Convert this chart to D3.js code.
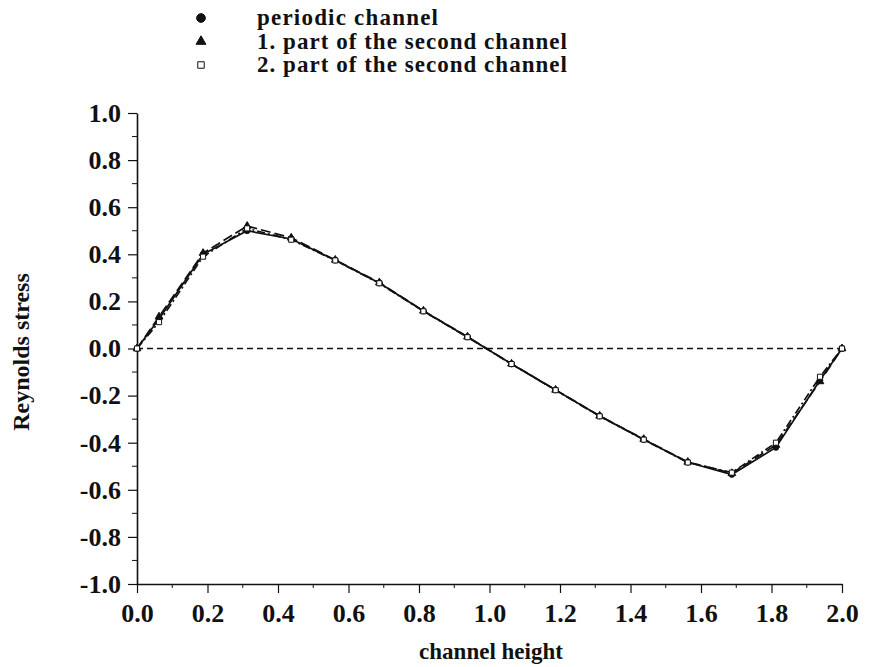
<!DOCTYPE html>
<html lang="en">
<head>
<meta charset="UTF-8">
<title>Reynolds stress</title>
<script src="https://d3js.org/d3.v7.min.js"></script>
<style>
  body { margin: 0; background: #fff; }
  text { font-family: "Liberation Serif", "Times New Roman", serif; fill: #111; }
</style>
</head>
<body>
<svg id="chart" width="869" height="667"></svg>
<script>
// data
const heights = [0, 0.0625, 0.1875, 0.3125, 0.4375, 0.5625, 0.6875, 0.8125, 0.9375,
                 1.0625, 1.1875, 1.3125, 1.4375, 1.5625, 1.6875, 1.8125, 1.9375, 2.0];
const periodic = [0, 0.125, 0.40, 0.50, 0.465, 0.375, 0.278, 0.159, 0.049,
                  -0.066, -0.176, -0.287, -0.386, -0.483, -0.535, -0.42, -0.135, 0];
const secondPart1 = [0, 0.135, 0.405, 0.52, 0.47, 0.376, 0.28, 0.16, 0.05,
                     -0.065, -0.176, -0.286, -0.385, -0.482, -0.53, -0.41, -0.14, 0];
const secondPart2 = [0, 0.112, 0.39, 0.51, 0.462, 0.374, 0.277, 0.158, 0.048,
                     -0.066, -0.177, -0.288, -0.387, -0.484, -0.527, -0.40, -0.12, 0];
const xTicks = [0, 0.2, 0.4, 0.6, 0.8, 1.0, 1.2, 1.4, 1.6, 1.8, 2.0];
const yTicks = [-1.0, -0.8, -0.6, -0.4, -0.2, 0, 0.2, 0.4, 0.6, 0.8, 1.0];
const legendLabels = ["periodic channel", "1. part of the second channel", "2. part of the second channel"];

const svg = d3.select("#chart");
const x = d3.scaleLinear().domain([0, 2]).range([137, 842]);
const y = d3.scaleLinear().domain([-1, 1]).range([584, 113]);
const fmt = d => d.toFixed(1);

// axes
const xAxis = d3.axisBottom(x).tickValues(xTicks).tickFormat(fmt).tickSize(9).tickSizeOuter(0);
const gx = svg.append("g").attr("transform", `translate(0,${y(-1)})`).call(xAxis);
gx.selectAll("text").attr("font-size", 26).attr("font-weight", "bold").attr("dy", "1.0em");

const yAxis = d3.axisLeft(y).tickValues(yTicks).tickFormat(fmt).tickSize(9).tickSizeOuter(0);
const gy = svg.append("g").attr("transform", `translate(${x(0)},0)`).call(yAxis);
gy.selectAll("text").attr("font-size", 26).attr("font-weight", "bold").attr("x", -16);

// minor ticks
const xMinor = d3.range(1, 20, 2).map(d => d / 10);
svg.append("g").selectAll("line").data(xMinor).join("line")
  .attr("x1", d => x(d)).attr("x2", d => x(d))
  .attr("y1", y(-1)).attr("y2", y(-1) + 4).attr("stroke", "#111");
const yMinor = d3.range(-9, 10, 2).map(d => d / 10);
svg.append("g").selectAll("line").data(yMinor).join("line")
  .attr("x1", x(0) - 5).attr("x2", x(0))
  .attr("y1", d => y(d)).attr("y2", d => y(d)).attr("stroke", "#111");

svg.selectAll(".domain").attr("stroke", "#111").attr("stroke-width", 1.6);
svg.selectAll(".tick line").attr("stroke", "#111").attr("stroke-width", 1.2);

// zero line
svg.append("line")
  .attr("x1", x(0)).attr("x2", x(2)).attr("y1", y(0)).attr("y2", y(0))
  .attr("stroke", "#111").attr("stroke-width", 1.3).attr("stroke-dasharray", "6,4");

// series
const series = [
  { values: periodic, dash: null, marker: "circle" },
  { values: secondPart1, dash: "10,4", marker: "triangle" },
  { values: secondPart2, dash: "8,3,2,3", marker: "square" }
];

const line = d3.line().x(d => x(d[0])).y(d => y(d[1]));

series.forEach(s => {
  const pts = heights.map((h, i) => [h, s.values[i]]);
  svg.append("path").datum(pts)
    .attr("d", line).attr("fill", "none")
    .attr("stroke", "#111").attr("stroke-width", 1.7)
    .attr("stroke-dasharray", s.dash);
  const sym = s.marker === "circle" ? d3.symbolCircle : s.marker === "triangle" ? d3.symbolTriangle : d3.symbolSquare;
  svg.append("g").selectAll("path").data(pts).join("path")
    .attr("transform", d => `translate(${x(d[0])},${y(d[1])})`)
    .attr("d", d3.symbol(sym, 26))
    .attr("fill", s.marker === "square" ? "#fff" : "#111")
    .attr("stroke", "#111").attr("stroke-width", 1);
});

// legend
const legend = svg.append("g");
const legendSyms = [d3.symbolCircle, d3.symbolTriangle, d3.symbolSquare];
const legendWidths = [181, 310, 310];
legendLabels.forEach((label, i) => {
  const ly = 18 + i * 23.5;
  legend.append("path")
    .attr("transform", `translate(201,${ly})`)
    .attr("d", d3.symbol(legendSyms[i], i === 0 ? 60 : 42))
    .attr("fill", i === 2 ? "#fff" : "#111")
    .attr("stroke", "#111").attr("stroke-width", 1);
  legend.append("text")
    .attr("x", 257).attr("y", ly + 7)
    .attr("font-size", 23).attr("font-weight", "bold")
    .attr("textLength", legendWidths[i]).attr("lengthAdjust", "spacing")
    .text(label);
});

// axis titles
svg.append("text")
  .attr("x", 491).attr("y", 659)
  .attr("text-anchor", "middle").attr("font-size", 23).attr("font-weight", "bold")
  .text("channel height");
svg.append("text")
  .attr("transform", "translate(29,352) rotate(-90)")
  .attr("text-anchor", "middle").attr("font-size", 24).attr("font-weight", "bold")
  .text("Reynolds stress");
</script>
</body>
</html>
